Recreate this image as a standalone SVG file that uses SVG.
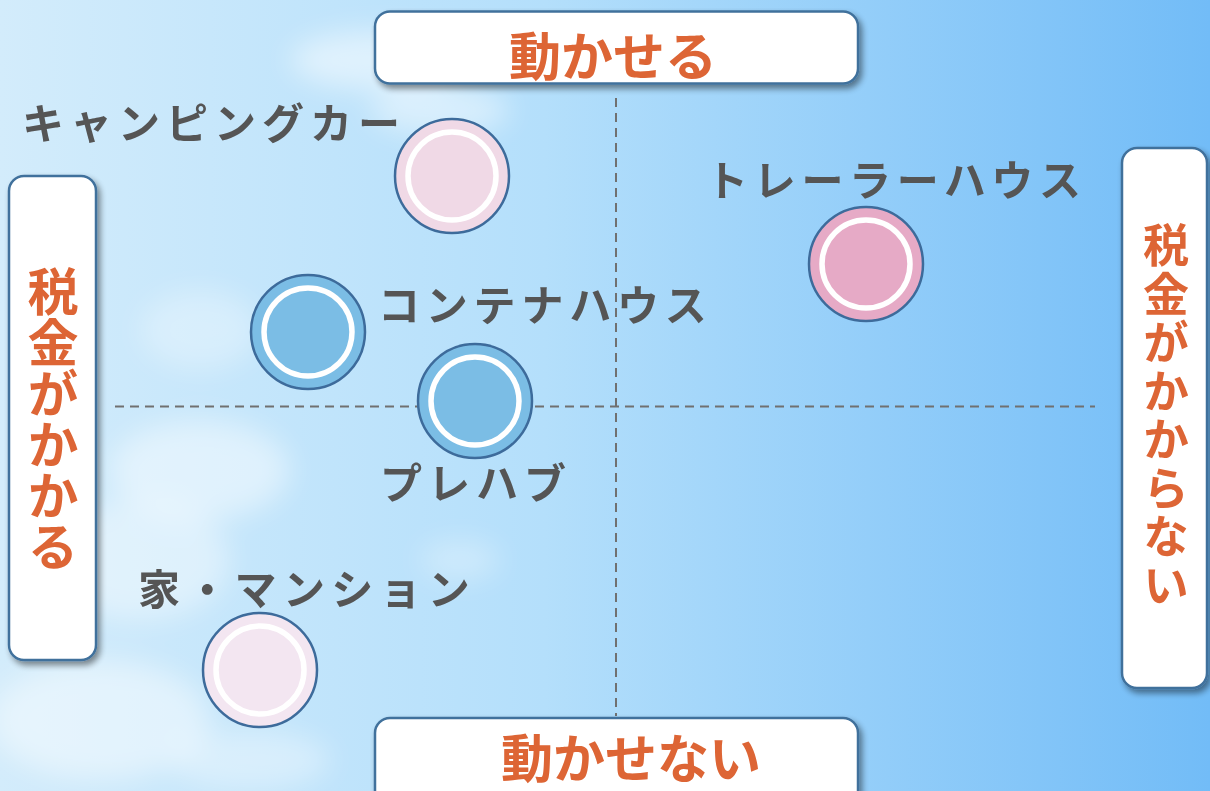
<svg xmlns="http://www.w3.org/2000/svg" width="1210" height="791" viewBox="0 0 1210 791">
<defs>
<linearGradient id="sky" x1="0" y1="0" x2="1" y2="0">
<stop offset="0" stop-color="#d3ecfb"/>
<stop offset="0.45" stop-color="#b4dffb"/>
<stop offset="1" stop-color="#72bcf7"/>
</linearGradient>
<filter id="blur" x="-50%" y="-50%" width="200%" height="200%"><feGaussianBlur stdDeviation="14"/></filter>
<filter id="shadow" x="-10%" y="-10%" width="130%" height="130%">
<feGaussianBlur in="SourceAlpha" stdDeviation="3"/>
<feOffset dx="3" dy="4" result="o"/>
<feComponentTransfer><feFuncA type="linear" slope="0.45"/></feComponentTransfer>
<feMerge><feMergeNode/><feMergeNode in="SourceGraphic"/></feMerge>
</filter>
</defs>
<style>
.box{fill:#ffffff;stroke:#41719c;stroke-width:2.5;filter:url(#shadow)}
.axis{font-family:"Noto Sans CJK JP","Noto Sans",sans-serif;font-weight:bold;fill:#dd6535;text-anchor:middle}
.vert{writing-mode:vertical-rl;text-orientation:upright}
.lbl{font-family:"Noto Sans CJK JP","Noto Sans",sans-serif;font-weight:bold;fill:#555555;font-size:42px}
.outer{stroke:#3d6b9b;stroke-width:2.5}
.inner{stroke:#ffffff;stroke-width:5.5}
.dash{stroke:#707070;stroke-width:2;stroke-dasharray:9 6;fill:none}
</style>
<rect width="1210" height="791" fill="url(#sky)"/>
<g id="clouds" filter="url(#blur)" fill="#ffffff">
<ellipse cx="380" cy="60" rx="90" ry="30" opacity="0.5"/>
<ellipse cx="440" cy="110" rx="70" ry="25" opacity="0.45"/>
<ellipse cx="200" cy="330" rx="60" ry="40" opacity="0.3"/>
<ellipse cx="200" cy="470" rx="90" ry="50" opacity="0.45"/>
<ellipse cx="140" cy="560" rx="90" ry="60" opacity="0.4"/>
<ellipse cx="100" cy="720" rx="110" ry="60" opacity="0.45"/>
<ellipse cx="250" cy="760" rx="80" ry="30" opacity="0.35"/>
<ellipse cx="460" cy="560" rx="40" ry="20" opacity="0.3"/>
</g>
<g id="connectors">
<line class="dash" x1="115" y1="406.5" x2="1095" y2="406.5"/>
<line class="dash" x1="616" y1="98" x2="616" y2="716"/>
</g>
<g id="axis-top"><rect class="box" x="375" y="11.5" width="483" height="72" rx="15"/><text class="axis" x="613" y="76" font-size="52">動かせる</text></g>
<g id="axis-bottom"><rect class="box" x="375" y="718" width="483" height="90" rx="15"/><text class="axis" x="631" y="778" font-size="52">動かせない</text></g>
<g id="axis-left"><rect class="box" x="9" y="176" width="87" height="484" rx="15"/>
<text class="axis vert" x="53" y="419" font-size="51">税金がかかる</text></g>
<g id="axis-right"><rect class="box" x="1122" y="148" width="85" height="540" rx="15"/>
<text class="axis vert" x="1166" y="416" font-size="46" letter-spacing="2.5">税金がかからない</text></g>
<g id="camping-car"><circle class="outer" cx="452" cy="176" r="57" fill="#f0d9e6"/><circle class="inner" cx="452" cy="176" r="44" fill="#f0d9e6"/><text class="lbl" x="22" y="139" letter-spacing="6">キャンピングカー</text></g>
<g id="trailer-house"><circle class="outer" cx="866" cy="264" r="57" fill="#e6aac6"/><circle class="inner" cx="866" cy="264" r="44" fill="#e6aac6"/><text class="lbl" x="706" y="196" letter-spacing="5.7">トレーラーハウス</text></g>
<g id="container-house"><circle class="outer" cx="308" cy="332" r="57" fill="#7bbde5"/><circle class="inner" cx="308" cy="332" r="44" fill="#7bbde5"/><text class="lbl" x="378" y="321" letter-spacing="5.8">コンテナハウス</text></g>
<g id="prefab"><circle class="outer" cx="475" cy="401" r="57" fill="#7bbde5"/><circle class="inner" cx="475" cy="401" r="44" fill="#7bbde5"/><text class="lbl" x="380" y="499" letter-spacing="6">プレハブ</text></g>
<g id="house-mansion"><circle class="outer" cx="260" cy="670" r="57" fill="#f3e6f1"/><circle class="inner" cx="260" cy="670" r="44" fill="#f3e6f1"/><text class="lbl" x="138" y="605" letter-spacing="6.3">家・マンション</text></g>
</svg>
